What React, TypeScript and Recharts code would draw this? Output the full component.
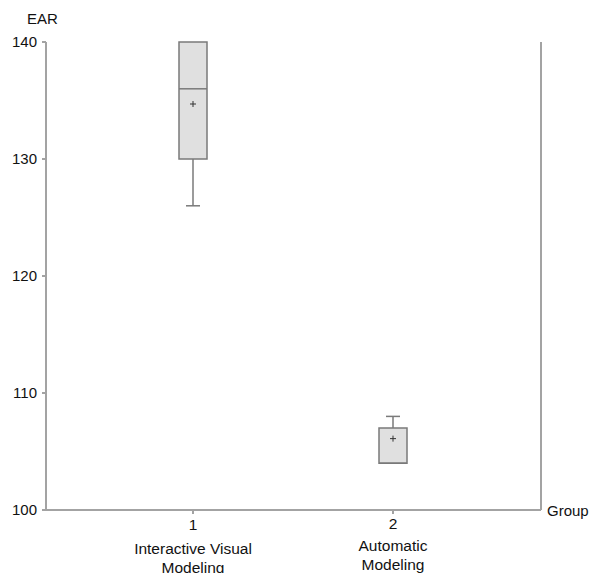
import {
  ComposedChart, XAxis, YAxis, Scatter, ReferenceArea, ReferenceLine,
} from 'recharts';

// group positions and labels
const groupX = [1, 2];
const groupNames = [['Interactive Visual', 'Modeling'], ['Automatic', 'Modeling']];

// box plot stats per group
const mins = [126, 104];
const q1s = [130, 104];
const medians = [136, 104];
const q3s = [140, 107];
const maxs = [140, 108];
const means = [134.7, 106.1];

const yTicks = [100, 110, 120, 130, 140];

const meanData = groupX.map((x, i) => ({ x, y: means[i] }));

const FONT = '"Liberation Sans", Arial, sans-serif';
const BOX_HALF = 0.07;
const CAP_HALF = 0.035;
const EDGE = '#7a7a7a';
const AXIS = '#a3a3a3';

function GroupTick(props: any) {
  const { x, y, payload } = props;
  const i = groupX.indexOf(payload.value);
  const lines = groupNames[i] || [];
  const dy = i === 0 ? 0 : -3;
  return (
    <g>
      <text x={x} y={y + 14 + dy / 2} textAnchor="middle" fontSize={15.5} fontFamily={FONT} fill="#111">
        {payload.value}
      </text>
      {lines.map((l, k) => (
        <text key={k} x={x} y={y + 38 + k * 19 + dy} textAnchor="middle" fontSize={15.5} fontFamily={FONT} fill="#111">
          {l}
        </text>
      ))}
    </g>
  );
}

function MeanMark(props: any) {
  const { cx, cy } = props;
  return (
    <g stroke="#333" strokeWidth={1}>
      <line x1={cx - 3} x2={cx + 3} y1={cy} y2={cy} />
      <line x1={cx} x2={cx} y1={cy - 3} y2={cy + 3} />
    </g>
  );
}

export default function App() {
  return (
    <div style={{ position: 'absolute', left: 0, top: 0, width: 593, height: 573, background: '#fff', overflow: 'hidden' }}>
      <ComposedChart width={593} height={573} margin={{ top: 42, right: 52, bottom: 0, left: 0 }}>
        <XAxis
          type="number"
          dataKey="x"
          domain={[0.265, 2.74]}
          ticks={groupX}
          allowDataOverflow
          tickSize={4}
          height={63}
          stroke={AXIS}
          strokeWidth={2}
          tick={<GroupTick />}
        />
        <YAxis
          type="number"
          dataKey="y"
          domain={[100, 140]}
          ticks={yTicks}
          allowDataOverflow
          width={46}
          tickSize={4}
          tickMargin={5}
          stroke={AXIS}
          strokeWidth={2}
          tick={{ fontSize: 15, fontFamily: FONT, fill: '#111' }}
        />
        <ReferenceLine x={2.74} stroke={AXIS} strokeWidth={2} ifOverflow="visible" />
        {groupX.map((x, i) => (
          <ReferenceArea
            key={'box' + i}
            x1={x - BOX_HALF}
            x2={x + BOX_HALF}
            y1={q1s[i]}
            y2={q3s[i]}
            fill="#e0e0e0"
            fillOpacity={1}
            stroke={EDGE}
            strokeWidth={1.5}
            ifOverflow="visible"
          />
        ))}
        {groupX.map((x, i) => (
          <ReferenceLine
            key={'med' + i}
            segment={[{ x: x - BOX_HALF, y: medians[i] }, { x: x + BOX_HALF, y: medians[i] }]}
            stroke={EDGE}
            strokeWidth={1.5}
            ifOverflow="visible"
          />
        ))}
        {groupX.map((x, i) => maxs[i] > q3s[i] && (
          <ReferenceLine
            key={'up' + i}
            segment={[{ x, y: q3s[i] }, { x, y: maxs[i] }]}
            stroke={EDGE}
            strokeWidth={1.5}
          />
        ))}
        {groupX.map((x, i) => maxs[i] > q3s[i] && (
          <ReferenceLine
            key={'upcap' + i}
            segment={[{ x: x - CAP_HALF, y: maxs[i] }, { x: x + CAP_HALF, y: maxs[i] }]}
            stroke={EDGE}
            strokeWidth={1.5}
          />
        ))}
        {groupX.map((x, i) => mins[i] < q1s[i] && (
          <ReferenceLine
            key={'lo' + i}
            segment={[{ x, y: q1s[i] }, { x, y: mins[i] }]}
            stroke={EDGE}
            strokeWidth={1.5}
          />
        ))}
        {groupX.map((x, i) => mins[i] < q1s[i] && (
          <ReferenceLine
            key={'locap' + i}
            segment={[{ x: x - CAP_HALF, y: mins[i] }, { x: x + CAP_HALF, y: mins[i] }]}
            stroke={EDGE}
            strokeWidth={1.5}
          />
        ))}
        <Scatter data={meanData} dataKey="y" shape={<MeanMark />} isAnimationActive={false} />
      </ComposedChart>
      <div style={{ position: 'absolute', left: 27, top: 10, fontSize: 15, fontFamily: FONT, color: '#111' }}>EAR</div>
      <div style={{ position: 'absolute', left: 547, top: 502, fontSize: 15, fontFamily: FONT, color: '#111' }}>Group</div>
    </div>
  );
}
